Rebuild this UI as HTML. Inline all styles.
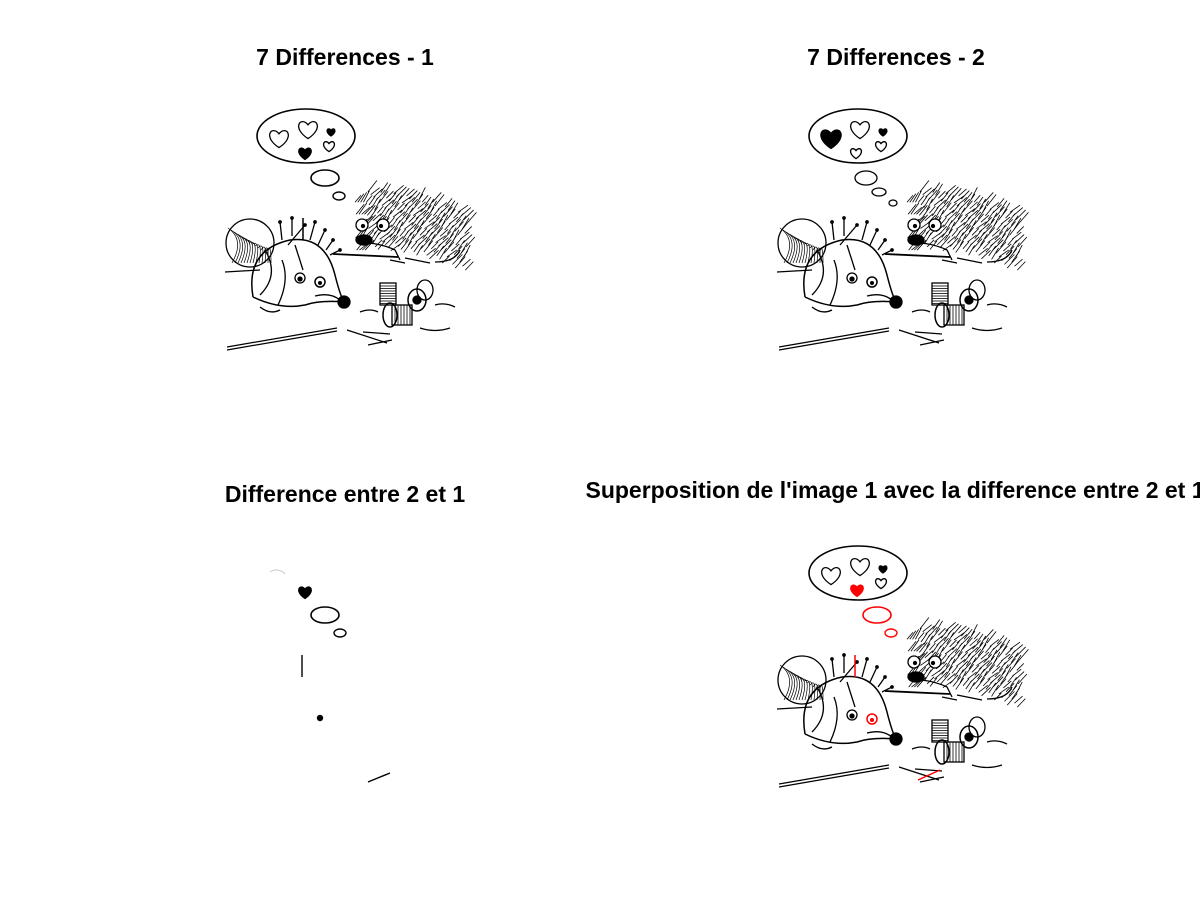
<!DOCTYPE html>
<html><head><meta charset="utf-8"><style>
html,body{margin:0;padding:0;background:#fff;width:1200px;height:900px;overflow:hidden}
.t{position:absolute;font-family:"Liberation Sans",sans-serif;font-weight:bold;font-size:23px;color:#000;white-space:nowrap;transform:translateX(-50%)}
</style></head><body>
<div class="t" style="left:345px;top:44px">7 Differences - 1</div>
<div class="t" style="left:896px;top:44px">7 Differences - 2</div>
<div class="t" style="left:345px;top:481px">Difference entre 2 et 1</div>
<div class="t" style="left:895px;top:477px">Superposition de l'image 1 avec la difference entre 2 et 1</div>
<svg id="s" width="1200" height="900" style="position:absolute;left:0;top:0"></svg>
<script>
const NS='http://www.w3.org/2000/svg';
const svg=document.getElementById('s');
function el(p,tag,a){const e=document.createElementNS(NS,tag);for(const k in a)e.setAttribute(k,a[k]);p.appendChild(e);return e;}
function heart(x,y,s){return `M${x} ${y+s*0.8} C${x-s*1.4} ${y-s*0.1},${x-s*0.6} ${y-s*1.1},${x} ${y-s*0.35} C${x+s*0.6} ${y-s*1.1},${x+s*1.4} ${y-s*0.1},${x} ${y+s*0.8}Z`;}
function scene(ox,oy,v,name){
 const g=el(svg,'g',{transform:`translate(${ox},${oy})`,fill:'none',stroke:'#000','stroke-width':1.3});
 
 
 const red=v==4?'#f00':'#000';
 el(g,'ellipse',{cx:86,cy:36,rx:49,ry:27,'stroke-width':1.6});
 if(v==2){
  el(g,'path',{d:heart(59,38,13),fill:'#000'});
  el(g,'path',{d:heart(88,29,12)});
  el(g,'path',{d:heart(111,32,5),fill:'#000'});
  el(g,'path',{d:heart(109,46,7)});
  el(g,'path',{d:heart(84,53,7)});
  el(g,'ellipse',{cx:94,cy:78,rx:11,ry:7});
  el(g,'ellipse',{cx:107,cy:92,rx:7,ry:4});
  el(g,'ellipse',{cx:121,cy:103,rx:4,ry:3});
 } else {
  el(g,'path',{d:heart(59,38,12)});
  el(g,'path',{d:heart(88,29,12)});
  el(g,'path',{d:heart(111,32,5),fill:'#000'});
  el(g,'path',{d:heart(109,46,7)});
  el(g,'path',{d:heart(85,53,8),fill:red,stroke:red});
  el(g,'ellipse',{cx:105,cy:78,rx:14,ry:8,stroke:red,'stroke-width':1.6});
  el(g,'ellipse',{cx:119,cy:96,rx:6,ry:4,stroke:red,'stroke-width':1.4});
 }
 for(let i=0;i<200;i++){
  const t=i/200;const x=135+t*112;const ytop=92+Math.pow(t-0.1,2)*30+ (t<0.1?(0.1-t)*100:0);
  const y=ytop+(i*37%23)*2.6;
  el(g,'line',{x1:x,y1:y,x2:x+6+(i%5),y2:y-7-(i%4)*1.5,'stroke-width':0.8});
 }
 el(g,'circle',{cx:142,cy:125,r:6,fill:'#fff'});
 el(g,'circle',{cx:163,cy:125,r:6,fill:'#fff'});
 el(g,'circle',{cx:143,cy:126,r:1.5,fill:'#000'});
 el(g,'circle',{cx:161,cy:126,r:1.5,fill:'#000'});
 el(g,'ellipse',{cx:144,cy:140,rx:8,ry:5,fill:'#000'});
 el(g,'path',{d:'M150 143 Q165 145 175 150 L180 160 M170 160 l15 3 M185 158 l25 5 M215 162 Q235 162 240 150'});
 el(g,'line',{x1:113,y1:154,x2:178,y2:157,'stroke-width':1.8});
 el(g,'circle',{cx:30,cy:143,r:24});
 for(let i=0;i<14;i++){el(g,'path',{d:`M${8+i*3} ${128+i*2} Q${25+i*2} ${140} ${12+i*3} ${163}`,'stroke-width':0.7});}
 el(g,'line',{x1:5,y1:172,x2:40,y2:170});
 el(g,'path',{d:'M33 197 Q25 150 70 140 Q105 135 115 175 Q120 195 124 202 Q100 200 85 205 Q60 210 33 197','stroke-width':1.5});
 el(g,'path',{d:'M45 150 Q60 175 40 195 M62 160 Q70 180 58 205 M75 145 l8 25'});
 el(g,'circle',{cx:80,cy:178,r:5});
 el(g,'circle',{cx:100,cy:182,r:5,stroke:red,'stroke-width':1.5});
 el(g,'circle',{cx:100,cy:183,r:2,fill:red,stroke:'none'});
 el(g,'circle',{cx:80,cy:179,r:2,fill:'#000'});
 el(g,'circle',{cx:124,cy:202,r:6,fill:'#000'});
 el(g,'path',{d:'M95 196 Q110 192 120 200 M40 207 Q50 215 60 210'});
 const pins=[[62,140,60,122],[72,136,72,118],[90,140,95,122],[98,145,105,130],[106,150,113,140],[110,155,120,150],[68,145,85,125]];
 for(const p of pins){el(g,'line',{x1:p[0],y1:p[1],x2:p[2],y2:p[3]});el(g,'circle',{cx:p[2],cy:p[3],r:1.2,fill:'#000'});}
 if(v!=2) el(g,'line',{x1:83,y1:118,x2:83,y2:140,stroke:red,'stroke-width':1.5});
 el(g,'rect',{x:160,y:183,width:16,height:22});
 for(let i=0;i<8;i++) el(g,'line',{x1:160,y1:186+i*2.5,x2:176,y2:186+i*2.5,'stroke-width':0.8});
 el(g,'ellipse',{cx:170,cy:215,rx:7,ry:12,'stroke-width':1.5});
 el(g,'rect',{x:172,y:205,width:20,height:20});
 for(let i=0;i<6;i++) el(g,'line',{x1:175+i*3,y1:205,x2:175+i*3,y2:225,'stroke-width':0.8});
 el(g,'ellipse',{cx:197,cy:200,rx:9,ry:11,'stroke-width':1.5});
 el(g,'circle',{cx:197,cy:200,r:4,fill:'#000'});
 el(g,'ellipse',{cx:205,cy:190,rx:8,ry:10});
 el(g,'path',{d:'M140 212 q10 -4 18 0 M200 228 q15 5 30 0 M215 205 q10 -3 20 2'});
 el(g,'path',{d:'M7 247 L117 228 M7 250 L117 231','stroke-width':1.2});
 el(g,'line',{x1:127,y1:230,x2:167,y2:243});
 el(g,'line',{x1:143,y1:232,x2:170,y2:234});
 el(g,'line',{x1:148,y1:245,x2:172,y2:240,'stroke-width':1.3});
 if(v==4) el(g,'line',{x1:146,y1:243,x2:168,y2:233,stroke:'#f00','stroke-width':1.5});
}
scene(220,100,1,'image-1');
scene(772,100,2,'image-2');
scene(772,537,4,'image-superposition');
const d=el(svg,'g',{transform:'translate(220,537)',fill:'none',stroke:'#000','stroke-width':1.4});


el(d,'path',{d:heart(85,55,8),fill:'#000'});
el(d,'ellipse',{cx:105,cy:78,rx:14,ry:8,'stroke-width':1.6});
el(d,'ellipse',{cx:120,cy:96,rx:6,ry:4});
el(d,'line',{x1:82,y1:118,x2:82,y2:140});
el(d,'circle',{cx:100,cy:181,r:2.5,fill:'#000'});
el(d,'line',{x1:148,y1:245,x2:170,y2:236});
el(d,'path',{d:'M50 35 q8 -5 15 2','stroke':'#ccc','stroke-width':1});
</script>
</body></html>
